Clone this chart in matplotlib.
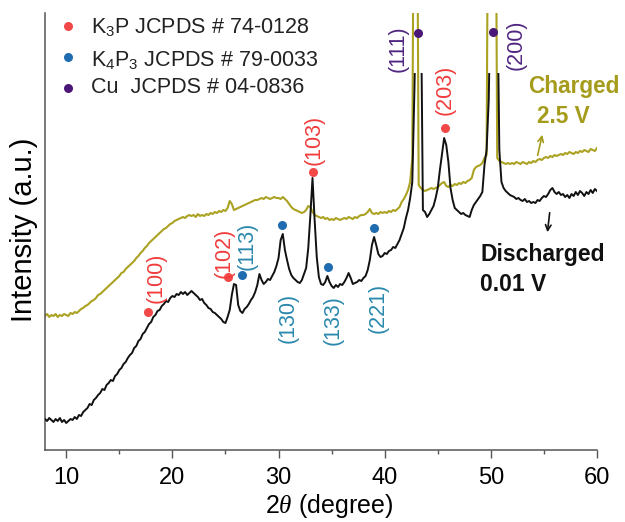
import numpy as np
import matplotlib
matplotlib.use("Agg")
import matplotlib.pyplot as plt
from matplotlib.transforms import Bbox, TransformedBbox

plt.rcParams['font.family'] = ['Liberation Sans', 'DejaVu Sans']
plt.rcParams['mathtext.fontset'] = 'custom'
plt.rcParams['mathtext.rm'] = 'Liberation Sans'
plt.rcParams['mathtext.it'] = 'Liberation Serif:italic'

# ---------------- data ----------------
two_theta = np.round(np.arange(8.0, 60.0001, 0.2), 2)  # scan grid (degree)

discharged = [
    31, 29, 32, 30, 28, 31, 29, 32, 28, 30,            # 8.0-9.8
    27, 29, 31, 30, 33, 31, 35, 34, 38, 40,            # 10.0-11.8
    42, 46, 45, 50, 52, 55, 57, 61, 60, 65,            # 12.0-13.8
    67, 70, 69, 74, 76, 80, 82, 86, 88, 92,            # 14.0-15.8
    95, 97, 102, 104, 109, 111, 116, 118, 122, 126,    # 16.0-17.8
    128, 133, 135, 139, 140, 144, 146, 149, 148, 152,  # 18.0-19.8
    154, 153, 156, 155, 158, 156, 158, 155, 157, 159,  # 20.0-21.8
    157, 155, 153, 150, 151, 147, 145, 142, 141, 138,  # 22.0-23.8
    137, 135, 133, 131, 128, 127, 133, 140, 155, 166,  # 24.0-25.8
    165, 145, 139, 137, 141, 143, 146, 150, 153, 158,  # 26.0-27.8
    165, 176, 170, 166, 168, 171, 170, 174, 178, 184,  # 28.0-29.8
    192, 210, 216, 200, 190, 181, 175, 172, 170, 168,  # 30.0-31.8
    167, 170, 176, 182, 202, 235, 272, 230, 193, 173,  # 32.0-33.8
    166, 165, 168, 174, 168, 164, 162, 165, 163, 166,  # 34.0-35.8
    165, 168, 172, 177, 172, 166, 167, 168, 170, 169,  # 36.0-37.8
    172, 174, 180, 190, 205, 213, 205, 196, 193, 194,  # 38.0-39.8
    197, 196, 199, 200, 203, 202, 206, 210, 216, 222,  # 40.0-41.8
    232, 240, 252, 268, 360, 470, 470, 470, 240, 238,  # 42.0-43.8
    233, 236, 240, 244, 252, 262, 280, 296, 312, 305,  # 44.0-45.8
    288, 262, 250, 242, 240, 238, 236, 237, 235, 234,  # 46.0-47.8
    233, 240, 245, 248, 251, 254, 258, 285, 300, 350,  # 48.0-49.8
    470, 470, 470, 470, 300, 268, 262, 259, 257, 255,  # 50.0-51.8
    254, 253, 251, 252, 250, 249, 251, 248, 249, 247,  # 52.0-53.8
    248, 247, 250, 249, 252, 254, 253, 256, 260, 262,  # 54.0-55.8
    258, 256, 258, 255, 256, 253, 255, 252, 256, 254,  # 56.0-57.8
    258, 255, 259, 257, 254, 258, 256, 260, 257, 261,  # 58.0-59.8
    259,                                               # 60.0
]

charged = [
    134, 136, 133, 135, 134, 136, 133, 135, 134, 136,  # 8.0-9.8
    135, 134, 137, 136, 138, 137, 139, 141, 142, 144,  # 10.0-11.8
    145, 147, 149, 150, 152, 155, 156, 158, 160, 162,  # 12.0-13.8
    164, 166, 168, 170, 172, 174, 177, 178, 181, 183,  # 14.0-15.8
    185, 187, 189, 192, 194, 197, 199, 202, 204, 207,  # 16.0-17.8
    209, 211, 213, 215, 217, 219, 221, 222, 224, 226,  # 18.0-19.8
    227, 229, 230, 231, 232, 233, 232, 234, 235, 234,  # 20.0-21.8
    235, 233, 236, 234, 235, 234, 236, 235, 237, 236,  # 22.0-23.8
    238, 237, 239, 238, 240, 239, 242, 249, 246, 240,  # 24.0-25.8
    241, 242, 243, 244, 245, 246, 247, 248, 249, 250,  # 26.0-27.8
    250, 251, 252, 251, 253, 252, 251, 252, 253, 252,  # 28.0-29.8
    252, 251, 253, 251, 249, 246, 243, 241, 240, 239,  # 30.0-31.8
    238, 237, 238, 240, 244, 243, 238, 235, 234, 233,  # 32.0-33.8
    232, 233, 231, 232, 230, 231, 230, 232, 231, 230,  # 34.0-35.8
    231, 232, 231, 233, 232, 231, 233, 232, 234, 235,  # 36.0-37.8
    235, 236, 238, 241, 237, 236, 237, 236, 238, 237,  # 38.0-39.8
    238, 237, 239, 238, 240, 239, 241, 243, 248, 251,  # 40.0-41.8
    255, 260, 268, 292, 700, 700, 265, 262, 260, 259,  # 42.0-43.8
    260, 261, 262, 261, 262, 263, 265, 267, 268, 264,  # 44.0-45.8
    263, 265, 264, 266, 265, 267, 266, 268, 267, 269,  # 46.0-47.8
    270, 272, 280, 283, 284, 285, 287, 292, 295, 700,  # 48.0-49.8
    700, 700, 700, 292, 289, 288, 287, 286, 287, 286,  # 50.0-51.8
    287, 286, 288, 287, 286, 288, 287, 286, 288, 287,  # 52.0-53.8
    289, 288, 290, 291, 290, 292, 293, 292, 294, 293,  # 54.0-55.8
    295, 294, 295, 296, 295, 297, 296, 298, 297, 296,  # 56.0-57.8
    298, 297, 299, 298, 300, 299, 298, 301, 300, 299,  # 58.0-59.8
    302,                                               # 60.0
]

# peak markers
hkl_labels = ['(100)', '(102)', '(113)', '(130)', '(103)', '(133)', '(221)', '(111)', '(203)', '(200)']
hkl_phase = ['K3P', 'K3P', 'K4P3', 'K4P3', 'K3P', 'K4P3', 'K4P3', 'Cu', 'K3P', 'Cu']
hkl_2theta = [17.70, 25.24, 26.56, 30.33, 33.25, 34.66, 39.00, 43.14, 45.68, 50.20]
hkl_intensity = [138, 173, 175, 225, 278, 183, 222, 417, 322, 418]

legend_labels = ['K$_3$P JCPDS # 74-0128', 'K$_4$P$_3$ JCPDS # 79-0033', 'Cu  JCPDS # 04-0836']
legend_phases = ['K3P', 'K4P3', 'Cu']

# ---------------- style ----------------
dot_colors = {'K3P': '#f24848', 'K4P3': '#1f6db0', 'Cu': '#4a1778'}
txt_colors = {'K3P': '#f03c3c', 'K4P3': '#2a88ad', 'Cu': '#4f2580'}
col_charged = '#aba222'
col_text_charged = '#a59c1c'
col_dis = '#111111'

# label layout: (x, y, vertical alignment) in data coords
label_layout = [
    (18.46, 147, 'bottom'), (24.86, 172, 'bottom'), (27.03, 180, 'bottom'),
    (30.89, 157, 'top'), (33.34, 285, 'bottom'), (35.13, 155, 'top'),
    (39.37, 167, 'top'), (41.26, 378, 'bottom'), (45.68, 335, 'bottom'),
    (52.37, 380, 'bottom'),
]

W, H = 625, 522
fig = plt.figure(figsize=(W / 100, H / 100), dpi=100)
ax = fig.add_axes([45 / W, 1 - 450 / H, 552 / W, 437 / H])
ax.set_xlim(8, 60)
ax.set_ylim(0, 437)

ln_c, = ax.plot(two_theta, charged, color=col_charged, lw=1.5, zorder=2)
ln_d, = ax.plot(two_theta, discharged, color=col_dis, lw=1.4, zorder=3)
# the discharged pattern is cut off at a fixed height in the original figure
ln_d.set_clip_path(None)
ln_d.set_clip_box(TransformedBbox(Bbox([[8, -20], [60, 377]]), ax.transData))

for lab, ph, xd, yd, (tx, ty, va) in zip(hkl_labels, hkl_phase, hkl_2theta, hkl_intensity, label_layout):
    ax.plot([xd], [yd], 'o', color=dot_colors[ph], ms=6.5, mec='none', zorder=4, clip_on=False)
    ax.text(tx, ty, lab, rotation=90, ha='center', va=va, fontsize=15.5,
            color=txt_colors[ph], zorder=5)

# legend (manual)
leg_rows_py = [33, 66, 93]
leg_dots_py = [26, 57, 88]
for lab, ph, by, dy in zip(legend_labels, legend_phases, leg_rows_py, leg_dots_py):
    fig.lines.append(plt.Line2D([68 / W], [1 - dy / H], marker='o', ms=6.5, mec='none',
                                color=dot_colors[ph], transform=fig.transFigure))
    fig.text(91 / W, 1 - by / H, lab, fontsize=15.5, ha='left', va='baseline', color='#222222')

# state annotations
ax.text(53.5, 357, 'Charged', fontsize=16.3, fontweight='bold', color=col_text_charged,
        ha='left', va='baseline')
ax.text(54.35, 327, '2.5 V', fontsize=16.3, fontweight='bold', color=col_text_charged,
        ha='left', va='baseline')
ax.annotate('', xy=(54.9, 318), xytext=(54.35, 292),
            arrowprops=dict(arrowstyle='->', color=col_text_charged, lw=1.2))
ax.text(48.98, 189, 'Discharged', fontsize=16.5, fontweight='bold', color='#111111',
        ha='left', va='baseline')
ax.text(48.98, 159, '0.01 V', fontsize=16.5, fontweight='bold', color='#111111',
        ha='left', va='baseline')
ax.annotate('', xy=(55.3, 215), xytext=(55.57, 240),
            arrowprops=dict(arrowstyle='->', color='#111111', lw=1.2))

# axes styling
for s in ['top', 'right']:
    ax.spines[s].set_visible(False)
for s in ['left', 'bottom']:
    ax.spines[s].set_color('#555555')
    ax.spines[s].set_linewidth(1.1)
ax.set_yticks([])
ax.set_xticks([10, 20, 30, 40, 50, 60])
ax.set_xticks([15, 25, 35, 45, 55], minor=True)
ax.tick_params(axis='x', which='major', direction='out', length=6, width=1.0,
               color='#555555', labelsize=17, pad=6)
ax.tick_params(axis='x', which='minor', direction='out', length=3, width=1.0, color='#555555')
ax.set_xlabel('2$\\it{\\theta}$ (degree)', fontsize=18)
ax.xaxis.set_label_coords(0.515, -0.095)
ax.set_ylabel('Intensity (a.u.)', fontsize=21)
ax.yaxis.set_label_coords(-0.012, 0.505)

fig.savefig('out.png', dpi=100)
